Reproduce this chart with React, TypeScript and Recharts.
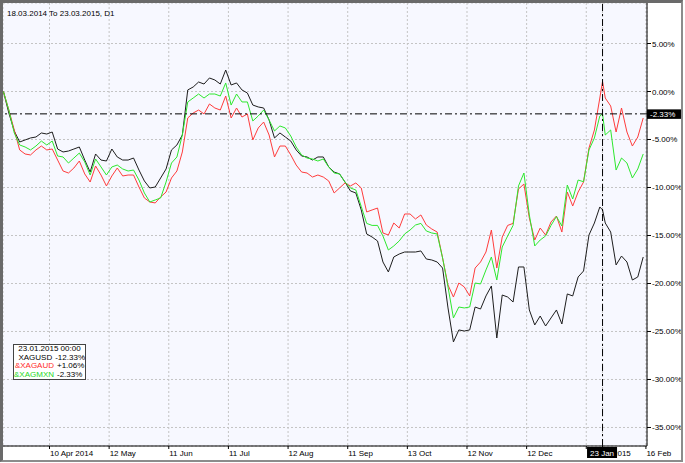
import React from 'react';
import { LineChart, Line, XAxis, YAxis, CartesianGrid, ReferenceLine } from 'recharts';

const FONT = '"Liberation Sans", Arial, sans-serif';

const bars = [
  0, 2, 4, 6, 8, 10, 12, 14, 16, 18, 20, 22, 24, 26, 28, 30, 32, 34, 36, 38,
  40, 42, 44, 46, 48, 50, 52, 54, 56, 58, 60, 62, 64, 66, 68, 70, 72, 74, 76, 78,
  80, 82, 84, 86, 88, 90, 92, 94, 96, 98, 100, 102, 104, 106, 108, 110, 112, 114, 116, 118,
  120, 122, 124, 126, 128, 130, 132, 134, 136, 138, 140, 142, 144, 146, 148, 150, 152, 154, 156, 158,
  160, 162, 164, 166, 168, 170, 172, 174, 176, 178, 180, 182, 184, 186, 188, 190, 192, 194, 196, 198,
  200, 202, 204, 206, 208, 210, 212, 214, 216, 218, 220, 221, 222, 224, 226, 228, 230, 232, 234, 236,
];

const xagusd = [
  0, -2.24, -4.11, -5.26, -5.05, -4.84, -4.74, -4.32, -4.43, -4.22, -5.99, -6.3, -6.2, -5.99, -5.78, -7.14, -8.39, -6.51, -7.14, -7.24,
  -5.99, -6.82, -7.14, -7.14, -6.93, -8.18, -9.32, -10.05, -9.95, -9.01, -8.07, -6.09, -5.57, -4.53, 0.16, 0.47, 0.99, 0.78, 1.41, 1.2,
  0.78, 2.24, 0.68, 0.89, 0.16, -0.16, -1.41, -1.61, -1.72, -2.97, -4.84, -4.32, -4.74, -5.16, -6.09, -6.72, -6.82, -7.14, -6.82, -6.82,
  -7.86, -8.39, -8.59, -9.43, -10.36, -10.57, -12.34, -14.84, -15.16, -15.57, -17.76, -18.8, -17.24, -16.93, -16.72, -16.72, -16.72, -16.61, -17.45, -17.55,
  -17.76, -18.39, -22.55, -26.09, -24.84, -24.95, -24.84, -22.45, -22.66, -21.3, -20.26, -25.68, -21.2, -21.41, -21.93, -18.28, -18.28, -22.76, -24.32, -23.39,
  -24.43, -23.59, -22.76, -24.22, -21.09, -21.3, -19.32, -18.7, -14.95, -13.7, -12.03, -12.33, -13.7, -14.64, -18.07, -17.14, -17.76, -19.64, -19.32, -17.24,
];

const xagaud = [
  0, -1.93, -4.01, -6.09, -6.51, -6.61, -6.09, -5.68, -6.09, -5.99, -7.14, -8.28, -8.49, -7.97, -7.24, -8.59, -9.43, -7.76, -8.7, -9.84,
  -8.8, -7.97, -8.8, -8.7, -8.7, -9.95, -11.09, -11.51, -11.61, -10.99, -10.47, -9.01, -8.28, -6.3, -2.76, -2.24, -1.93, -2.34, -1.3, -1.72,
  -1.93, -0.47, -2.76, -1.72, -2.66, -2.34, -5.05, -3.8, -3.18, -4.53, -6.82, -5.68, -5.68, -6.61, -7.66, -8.39, -8.49, -8.91, -8.7, -8.91,
  -9.32, -10.57, -10.05, -9.53, -9.84, -9.53, -10.05, -12.55, -12.34, -12.14, -14.74, -14.95, -13.7, -14.22, -12.76, -12.76, -13.28, -12.86, -13.91, -14.32,
  -14.64, -17.34, -20.16, -21.41, -19.95, -20.36, -21.3, -18.39, -17.76, -16.72, -14.43, -18.39, -15.16, -13.95, -13.74, -10.16, -9.64, -13.18, -15.47, -14.22,
  -14.95, -13.59, -12.97, -14.64, -10.47, -11.93, -10.47, -9.43, -5.89, -4.01, -0.68, 1.06, -0.68, -1.51, -4.22, -1.72, -4.22, -5.68, -4.74, -2.76,
];

const xagmxn = [
  0, -1.93, -4.32, -5.57, -5.78, -6.09, -5.68, -5.16, -5.57, -5.16, -6.72, -6.82, -7.45, -6.93, -6.41, -7.34, -8.7, -7.03, -7.86, -8.7,
  -7.86, -7.66, -8.07, -8.28, -8.18, -9.22, -10.57, -11.51, -11.3, -11.09, -9.43, -7.45, -6.82, -4.53, -1.09, -0.68, -0.26, -0.68, -0.26, -0.26,
  -0.47, 0.89, -1.41, -0.26, -1.09, -1.09, -3.07, -2.55, -1.93, -2.97, -4.11, -3.59, -3.8, -4.64, -5.78, -6.61, -6.93, -7.03, -7.24, -7.03,
  -7.86, -8.49, -8.59, -9.43, -10.05, -10.26, -11.98, -13.74, -13.95, -13.95, -15.05, -16.51, -16.09, -15.57, -14.84, -14.43, -13.91, -13.74, -14.53, -14.74,
  -14.84, -17.34, -20.36, -23.59, -22.45, -22.55, -22.45, -19.95, -20.05, -18.59, -17.24, -19.64, -16.2, -15.05, -13.95, -9.84, -8.49, -12.86, -16.09, -15.47,
  -15.05, -13.95, -13.02, -14.01, -9.74, -11.2, -9.22, -9.4, -6.09, -4.84, -2.55, -2.33, -4.53, -4.01, -8.18, -6.93, -7.45, -9.01, -8.07, -6.51,
];

const xTickBars = [17, 39, 61, 83, 105, 127, 149, 171, 193, 215, 237];
const xTickLabels = ['10 Apr 2014', '12 May', '11 Jun', '11 Jul', '12 Aug', '11 Sep', '13 Oct', '12 Nov', '12 Dec', '15 Jan 2015', '16 Feb'];
const yTicks = [5, 0, -5, -10, -15, -20, -25, -30, -35];

const titleText = '18.03.2014 To 23.03.2015, D1';
const crossBar = 221;
const crossLabel = '23 Jan';
const crossValue = -2.33;
const legendDate = '23.01.2015 00:00';
const seriesNames = ['XAGUSD', '&XAGAUD', '&XAGMXN'];
const legendValues = ['-12.33%', '+1.06%', '-2.33%'];
const seriesColors = ['#1e1e1e', '#ff3c3c', '#2ee82e'];
const legendColors = ['#000000', '#ff2a2a', '#1ed81e'];

const data = bars.map((b, i) => ({ bar: b, usd: xagusd[i], aud: xagaud[i], mxn: xagmxn[i] }));

// the crosshair bar is inserted among the axis ticks so its date box is drawn after (above) the Jan label
const axisTicks = [...xTickBars.slice(0, 10), crossBar, ...xTickBars.slice(10)];

const XTick = (props: any) => {
  const { x, y, payload } = props;
  if (payload.value === crossBar) {
    return (
      <g>
        <rect x={x - 15.5} y={y - 2} width={30} height={11} fill="#000" />
        <text x={x - 0.5} y={y + 6.5} fill="#fff" fontSize={8} fontFamily={FONT} textAnchor="middle">
          {crossLabel}
        </text>
      </g>
    );
  }
  const idx = xTickBars.indexOf(payload.value);
  return (
    <text x={x + 0.5} y={y + 6.5} fontSize={8} fontFamily={FONT} fill="#000" textAnchor="start">
      {idx >= 0 ? xTickLabels[idx] : ''}
    </text>
  );
};

const YTick = (props: any) => {
  const { x, y, payload } = props;
  return (
    <text x={x} y={y + 3} fontSize={8} fontFamily={FONT} fill="#000" textAnchor="start">
      {payload.value.toFixed(2) + '%'}
    </text>
  );
};

const YBox = (props: any) => {
  const vb = props.viewBox || {};
  const right = vb.x + vb.width;
  const cy = vb.y;
  return (
    <g>
      <rect x={right} y={cy - 4.5} width={34} height={9.5} fill="#000" />
      <text x={right + 3} y={cy + 3} fill="#fff" fontSize={8} fontFamily={FONT} textAnchor="start">
        {crossValue.toFixed(2) + '%'}
      </text>
    </g>
  );
};

export default function App() {
  return (
    <div style={{ position: 'absolute', left: 0, top: 0, width: 685, height: 463, background: '#fff', overflow: 'hidden' }}>
      <LineChart width={685} height={463} data={data} margin={{ top: 3, right: 0, bottom: 0, left: 3 }}>
        <CartesianGrid stroke="#c4c4c4" strokeDasharray="2 2" fill="#F7F8FF" fillOpacity={1} />
        <XAxis
          dataKey="bar"
          type="number"
          domain={[-0.15, 237.4]}
          ticks={axisTicks}
          interval={0}
          allowDataOverflow
          height={17}
          axisLine={{ stroke: '#000' }}
          tickLine={{ stroke: '#000' }}
          tickSize={3}
          tickMargin={0}
          tick={<XTick />}
        />
        <YAxis
          orientation="right"
          type="number"
          domain={[-36.93, 9.22]}
          ticks={yTicks}
          interval={0}
          allowDataOverflow
          width={38}
          axisLine={{ stroke: '#000' }}
          tickLine={{ stroke: '#000' }}
          tickSize={4}
          tickMargin={1}
          tick={<YTick />}
        />
        <Line type="linear" dataKey="usd" stroke={seriesColors[0]} strokeWidth={1} dot={false} isAnimationActive={false} />
        <Line type="linear" dataKey="aud" stroke={seriesColors[1]} strokeWidth={1} dot={false} isAnimationActive={false} />
        <Line type="linear" dataKey="mxn" stroke={seriesColors[2]} strokeWidth={1} dot={false} isAnimationActive={false} />
        <ReferenceLine y={crossValue} stroke="#000" strokeDasharray="7 3 2 3" label={(p: any) => <YBox {...p} />} />
        <ReferenceLine x={crossBar} stroke="#000" strokeDasharray="7 3 2 3" />
      </LineChart>
      <div style={{ position: 'absolute', left: 7, top: 9, fontFamily: FONT, fontSize: 8, lineHeight: '9px', color: '#000', whiteSpace: 'nowrap' }}>
        {titleText}
      </div>
      <div
        style={{
          position: 'absolute', left: 13, top: 344, width: 73, height: 36, boxSizing: 'border-box',
          border: '1px solid #444', background: '#fff', fontFamily: FONT, fontSize: 8, lineHeight: '8.6px', whiteSpace: 'nowrap',
        }}
      >
        <div style={{ textAlign: 'center', color: '#000' }}>{legendDate}</div>
        {seriesNames.map((n, i) => (
          <div key={n} style={{ display: 'flex' }}>
            <span style={{ width: 40, textAlign: 'right', color: legendColors[i] }}>{n}</span>
            <span style={{ marginLeft: 3, color: '#000' }}>{legendValues[i]}</span>
          </div>
        ))}
      </div>
      <div
        style={{
          position: 'absolute', left: 0, top: 0, width: 683, height: 462, boxSizing: 'border-box',
          borderLeft: '3px solid #6a6a6a', borderTop: '3px solid #6a6a6a',
          borderRight: '2px solid #8c8c8c', borderBottom: '2px solid #8c8c8c', pointerEvents: 'none',
        }}
      />
    </div>
  );
}
